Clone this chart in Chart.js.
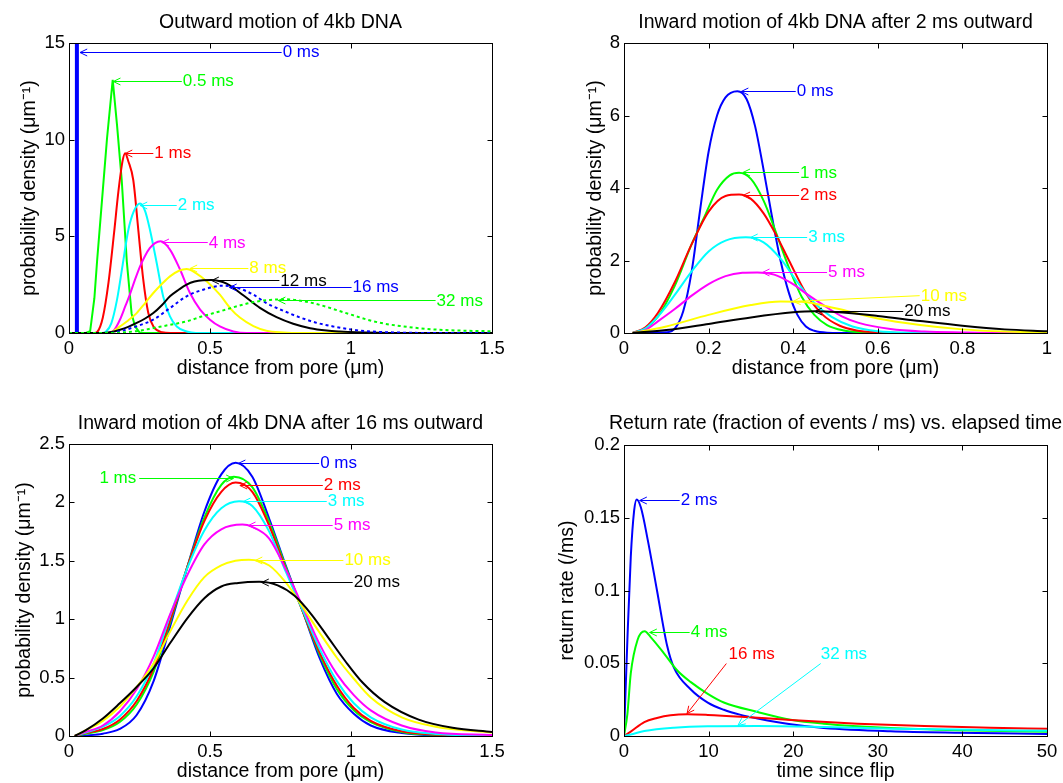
<!DOCTYPE html>
<html>
<head>
<meta charset="utf-8">
<script src="https://cdn.jsdelivr.net/npm/chart.js@4.4.1/dist/chart.umd.min.js"></script>
<style>
  html, body { margin: 0; padding: 0; background: #fff; }
  body { width: 1063px; height: 783px; position: relative; overflow: hidden; }
  canvas { position: absolute; }
</style>
</head>
<body>
<canvas id="outward" width="531" height="392" style="left:0px;top:0px;width:531px;height:392px"></canvas>
<canvas id="inward2" width="508" height="392" style="left:555px;top:0px;width:508px;height:392px"></canvas>
<canvas id="inward16" width="531" height="383" style="left:0px;top:400px;width:531px;height:383px"></canvas>
<canvas id="returnRate" width="508" height="383" style="left:555px;top:400px;width:508px;height:383px"></canvas>
<script>
// ---------- colours ----------
const BLUE = '#0000ff', GREEN = '#00ff00', RED = '#ff0000', CYAN = '#00ffff',
      MAGENTA = '#ff00ff', YELLOW = '#ffff00', BLACK = '#000000';
const FONT = '"Liberation Sans", Arial, Helvetica, sans-serif';

// ---------- outward motion of 4kb DNA (distance in µm, density in 1/µm) ----------
const outX_0 = [0.028, 0.028];
const outY_0 = [0, 15];
const outX_05 = [0, 0.06, 0.075, 0.09, 0.10, 0.12, 0.135, 0.155, 0.17, 0.187, 0.205, 0.222, 0.234, 0.25, 0.26, 1.5];
const outY_05 = [0, 0, 0.1, 1.8, 3.8, 7.4, 10.1, 13.1, 10.8, 7.9, 3.7, 1.0, 0.35, 0.03, 0, 0];
const outX_1 = [0, 0.09, 0.10, 0.12, 0.14, 0.16, 0.175, 0.19, 0.199, 0.21, 0.228, 0.246, 0.263, 0.281, 0.30, 0.33, 0.36, 1.5];
const outY_1 = [0, 0, 0.05, 0.8, 2.6, 5.2, 7.3, 8.9, 9.3, 8.9, 7.9, 5.3, 2.8, 1.05, 0.32, 0.04, 0, 0];
const outX_2 = [0, 0.12, 0.13, 0.15, 0.17, 0.19, 0.21, 0.23, 0.252, 0.27, 0.287, 0.311, 0.334, 0.358, 0.382, 0.417, 0.45, 1.5];
const outY_2 = [0, 0, 0.05, 0.5, 1.7, 3.5, 5.3, 6.3, 6.7, 6.3, 5.34, 3.62, 1.89, 0.86, 0.34, 0.08, 0, 0];
const outX_4 = [0, 0.14, 0.16, 0.181, 0.20, 0.216, 0.235, 0.252, 0.27, 0.287, 0.305, 0.325, 0.358, 0.394, 0.429, 0.465, 0.50, 0.535, 0.583, 0.63, 1.5];
const outY_4 = [0, 0, 0.15, 0.7, 1.4, 2.0, 2.8, 3.45, 4.0, 4.4, 4.65, 4.74, 4.31, 3.27, 2.07, 1.21, 0.69, 0.34, 0.08, 0, 0];
const outX_8 = [0, 0.14, 0.16, 0.181, 0.21, 0.24, 0.27, 0.299, 0.33, 0.358, 0.39, 0.417, 0.45, 0.49, 0.535, 0.571, 0.606, 0.654, 0.70, 0.76, 0.82, 1.5];
const outY_8 = [0, 0, 0.12, 0.34, 0.65, 1.03, 1.55, 2.07, 2.55, 2.93, 3.22, 3.31, 3.1, 2.65, 1.98, 1.29, 0.8, 0.36, 0.12, 0.03, 0, 0];
const outX_12 = [0, 0.12, 0.15, 0.181, 0.21, 0.24, 0.27, 0.299, 0.33, 0.358, 0.39, 0.417, 0.445, 0.475, 0.505, 0.559, 0.618, 0.677, 0.736, 0.795, 0.855, 0.914, 0.96, 1.02, 1.1, 1.2, 1.5];
const outY_12 = [0, 0, 0.05, 0.17, 0.32, 0.52, 0.75, 1.03, 1.45, 1.9, 2.25, 2.5, 2.66, 2.73, 2.74, 2.55, 1.95, 1.3, 0.82, 0.48, 0.25, 0.13, 0.08, 0.04, 0.015, 0, 0];
const outX_16 = [0, 0.14, 0.181, 0.24, 0.299, 0.358, 0.417, 0.476, 0.547, 0.595, 0.654, 0.70, 0.76, 0.82, 0.88, 0.94, 1.0, 1.06, 1.15, 1.3, 1.5];
const outY_16 = [0, 0, 0.09, 0.35, 0.69, 1.29, 1.9, 2.24, 2.45, 2.35, 1.98, 1.55, 1.15, 0.8, 0.52, 0.33, 0.18, 0.09, 0.03, 0, 0];
const outX_32 = [0, 0.15, 0.20, 0.25, 0.30, 0.35, 0.417, 0.47, 0.535, 0.595, 0.654, 0.713, 0.772, 0.83, 0.89, 0.95, 1.0, 1.06, 1.12, 1.18, 1.24, 1.30, 1.40, 1.5];
const outY_32 = [0, 0, 0.04, 0.12, 0.26, 0.4, 0.6, 0.85, 1.12, 1.38, 1.6, 1.71, 1.74, 1.65, 1.45, 1.18, 0.95, 0.68, 0.48, 0.35, 0.25, 0.18, 0.12, 0.09];
const outXTicks = [0, 0.5, 1, 1.5];
const outXLabels = ['0', '0.5', '1', '1.5'];
const outYTicks = [0, 5, 10, 15];
const outYLabels = ['0', '5', '10', '15'];

// ---------- inward motion after 2 ms outward ----------
const in2X_0 = [0.02, 0.10, 0.12, 0.14, 0.16, 0.18, 0.20, 0.22, 0.24, 0.268, 0.29, 0.31, 0.33, 0.35, 0.37, 0.39, 0.41, 0.43, 0.45, 0.48, 0.55, 1.0];
const in2Y_0 = [0, 0.02, 0.12, 0.6, 1.7, 3.4, 5.0, 6.0, 6.5, 6.67, 6.45, 5.7, 4.5, 3.2, 2.0, 1.1, 0.5, 0.18, 0.06, 0.01, 0, 0];
const in2X_1 = [0.02, 0.05, 0.08, 0.12, 0.16, 0.19, 0.22, 0.25, 0.272, 0.30, 0.33, 0.36, 0.39, 0.42, 0.45, 0.48, 0.52, 0.56, 0.62, 0.7, 1.0];
const in2Y_1 = [0, 0.12, 0.45, 1.3, 2.45, 3.2, 3.95, 4.35, 4.42, 4.25, 3.65, 2.75, 1.8, 1.0, 0.5, 0.22, 0.07, 0.02, 0, 0, 0];
const in2X_2 = [0.02, 0.05, 0.08, 0.12, 0.16, 0.20, 0.24, 0.272, 0.30, 0.33, 0.36, 0.39, 0.43, 0.47, 0.51, 0.55, 0.60, 0.68, 1.0];
const in2Y_2 = [0, 0.15, 0.55, 1.4, 2.45, 3.35, 3.78, 3.82, 3.7, 3.3, 2.7, 2.0, 1.1, 0.5, 0.2, 0.07, 0.02, 0, 0];
const in2X_3 = [0.02, 0.05, 0.08, 0.12, 0.16, 0.20, 0.24, 0.288, 0.33, 0.37, 0.41, 0.45, 0.49, 0.54, 0.60, 0.68, 0.8, 1.0];
const in2Y_3 = [0, 0.12, 0.45, 1.05, 1.7, 2.25, 2.55, 2.64, 2.5, 2.05, 1.4, 0.83, 0.45, 0.18, 0.05, 0.01, 0, 0];
const in2X_5 = [0.02, 0.05, 0.08, 0.12, 0.16, 0.20, 0.24, 0.28, 0.315, 0.355, 0.395, 0.435, 0.475, 0.515, 0.555, 0.63, 0.71, 0.8, 0.9, 1.0];
const in2Y_5 = [0, 0.08, 0.32, 0.66, 1.03, 1.35, 1.57, 1.66, 1.67, 1.61, 1.38, 1.05, 0.74, 0.46, 0.28, 0.11, 0.04, 0.015, 0, 0];
const in2X_10 = [0.02, 0.1, 0.2, 0.3, 0.37, 0.42, 0.5, 0.6, 0.7, 0.8, 0.9, 1.0];
const in2Y_10 = [0, 0.18, 0.5, 0.77, 0.87, 0.86, 0.68, 0.4, 0.22, 0.1, 0.04, 0.015];
const in2X_20 = [0.02, 0.1, 0.2, 0.3, 0.4, 0.45, 0.5, 0.6, 0.7, 0.8, 0.9, 1.0];
const in2Y_20 = [0, 0.08, 0.25, 0.43, 0.57, 0.6, 0.58, 0.47, 0.33, 0.2, 0.1, 0.05];
const in2XTicks = [0, 0.2, 0.4, 0.6, 0.8, 1];
const in2XLabels = ['0', '0.2', '0.4', '0.6', '0.8', '1'];
const in2YTicks = [0, 2, 4, 6, 8];
const in2YLabels = ['0', '2', '4', '6', '8'];

// ---------- inward motion after 16 ms outward ----------
const in16X_0 = [0.02, 0.06, 0.12, 0.18, 0.24, 0.30, 0.36, 0.42, 0.48, 0.54, 0.591, 0.65, 0.71, 0.77, 0.83, 0.89, 0.95, 1.01, 1.07, 1.18, 1.3, 1.5];
const in16Y_0 = [0, 0.005, 0.02, 0.06, 0.18, 0.47, 0.95, 1.45, 1.92, 2.24, 2.34, 2.22, 1.86, 1.45, 1.06, 0.66, 0.36, 0.19, 0.09, 0.025, 0.005, 0];
const in16X_1 = [0.02, 0.06, 0.12, 0.18, 0.24, 0.30, 0.36, 0.42, 0.48, 0.54, 0.585, 0.65, 0.71, 0.77, 0.83, 0.89, 0.95, 1.01, 1.07, 1.18, 1.3, 1.5];
const in16Y_1 = [0, 0.02, 0.05, 0.12, 0.27, 0.55, 0.98, 1.45, 1.87, 2.15, 2.22, 2.13, 1.83, 1.44, 1.06, 0.69, 0.40, 0.22, 0.12, 0.035, 0.01, 0.002];
const in16X_2 = [0.02, 0.06, 0.12, 0.18, 0.24, 0.30, 0.36, 0.42, 0.48, 0.54, 0.591, 0.65, 0.71, 0.77, 0.83, 0.89, 0.95, 1.01, 1.07, 1.18, 1.3, 1.5];
const in16Y_2 = [0, 0.025, 0.06, 0.14, 0.30, 0.58, 1.0, 1.45, 1.84, 2.09, 2.17, 2.09, 1.80, 1.42, 1.06, 0.71, 0.43, 0.24, 0.13, 0.04, 0.012, 0.003];
const in16X_3 = [0.02, 0.06, 0.12, 0.18, 0.24, 0.30, 0.36, 0.42, 0.48, 0.54, 0.603, 0.65, 0.71, 0.77, 0.83, 0.89, 0.95, 1.01, 1.07, 1.18, 1.3, 1.5];
const in16Y_3 = [0, 0.03, 0.08, 0.17, 0.34, 0.62, 1.04, 1.44, 1.76, 1.95, 2.01, 1.97, 1.75, 1.40, 1.07, 0.74, 0.47, 0.28, 0.16, 0.055, 0.018, 0.005];
const in16X_5 = [0.02, 0.06, 0.12, 0.18, 0.24, 0.30, 0.36, 0.42, 0.48, 0.54, 0.615, 0.65, 0.71, 0.77, 0.83, 0.89, 0.95, 1.01, 1.07, 1.18, 1.3, 1.5];
const in16Y_5 = [0, 0.035, 0.09, 0.21, 0.40, 0.68, 1.05, 1.38, 1.64, 1.77, 1.81, 1.79, 1.69, 1.42, 1.10, 0.78, 0.53, 0.35, 0.22, 0.09, 0.03, 0.008];
const in16X_10 = [0.02, 0.06, 0.12, 0.18, 0.24, 0.30, 0.36, 0.42, 0.48, 0.54, 0.59, 0.638, 0.71, 0.77, 0.83, 0.89, 0.95, 1.01, 1.07, 1.18, 1.3, 1.5];
const in16Y_10 = [0, 0.05, 0.13, 0.25, 0.42, 0.62, 0.90, 1.16, 1.36, 1.46, 1.50, 1.51, 1.46, 1.31, 1.10, 0.88, 0.67, 0.49, 0.33, 0.16, 0.08, 0.03];
const in16X_20 = [0.02, 0.06, 0.12, 0.18, 0.24, 0.30, 0.36, 0.42, 0.48, 0.54, 0.60, 0.674, 0.74, 0.80, 0.86, 0.92, 0.98, 1.04, 1.12, 1.24, 1.36, 1.5];
const in16Y_20 = [0, 0.05, 0.15, 0.28, 0.42, 0.58, 0.80, 1.01, 1.18, 1.28, 1.31, 1.32, 1.29, 1.20, 1.04, 0.84, 0.64, 0.46, 0.29, 0.14, 0.07, 0.035];
const in16YTicks = [0, 0.5, 1, 1.5, 2, 2.5];
const in16YLabels = ['0', '0.5', '1', '1.5', '2', '2.5'];

// ---------- return rate vs. time since flip ----------
const retX_2 = [0, 0.4, 0.8, 1.2, 1.5, 2.0, 2.8, 3.9, 5.1, 5.9, 7.9, 9.9, 11.8, 13.8, 15.8, 19.7, 23.6, 31.5, 39.4, 50];
const retY_2 = [0, 0.066, 0.123, 0.155, 0.1626, 0.157, 0.135, 0.10, 0.062, 0.047, 0.032, 0.023, 0.018, 0.0145, 0.012, 0.008, 0.0055, 0.0032, 0.0022, 0.0014];
const retX_4 = [0, 0.4, 0.8, 1.6, 2.44, 3.15, 4.7, 6.3, 7.9, 9.9, 11.8, 15.8, 19.7, 23.6, 31.5, 39.4, 50];
const retY_4 = [0, 0.015, 0.043, 0.066, 0.072, 0.068, 0.057, 0.045, 0.037, 0.029, 0.023, 0.0165, 0.0112, 0.0085, 0.0055, 0.004, 0.003];
const retX_16 = [0, 0.8, 2.4, 3.9, 5.5, 7.5, 9.9, 13.8, 19.7, 27.6, 35.5, 43.3, 50];
const retY_16 = [0, 0.003, 0.0096, 0.0124, 0.0142, 0.0149, 0.0145, 0.0133, 0.011, 0.0085, 0.0068, 0.0056, 0.005];
const retX_32 = [0, 0.8, 2.4, 5.9, 9.9, 15.8, 23.6, 31.5, 39.4, 50];
const retY_32 = [0, 0.001, 0.0034, 0.0057, 0.0067, 0.0069, 0.0062, 0.005, 0.0044, 0.0036];
const retXTicks = [0, 10, 20, 30, 40, 50];
const retXLabels = ['0', '10', '20', '30', '40', '50'];
const retYTicks = [0, 0.05, 0.1, 0.15, 0.2];
const retYLabels = ['0', '0.05', '0.1', '0.15', '0.2'];

// ---------- arrow labels: tail/head in data units ----------
const outNotes = [
  { label: '0 ms',   color: BLUE,    tail: [0.754, 14.53], head: [0.039, 14.53] },
  { label: '0.5 ms', color: GREEN,   tail: [0.40, 13.05],  head: [0.157, 13.05] },
  { label: '1 ms',   color: RED,     tail: [0.299, 9.31],  head: [0.199, 9.31] },
  { label: '2 ms',   color: CYAN,    tail: [0.382, 6.64],  head: [0.252, 6.64] },
  { label: '4 ms',   color: MAGENTA, tail: [0.492, 4.69],  head: [0.329, 4.69] },
  { label: '8 ms',   color: YELLOW,  tail: [0.636, 3.36],  head: [0.429, 3.36] },
  { label: '12 ms',  color: BLACK,   tail: [0.746, 2.72],  head: [0.506, 2.72] },
  { label: '16 ms',  color: BLUE,    tail: [1.002, 2.38],  head: [0.569, 2.38] },
  { label: '32 ms',  color: GREEN,   tail: [1.30, 1.69],   head: [0.742, 1.69] }
];
const in2Notes = [
  { label: '0 ms',  color: BLUE,    tail: [0.406, 6.67], head: [0.277, 6.67] },
  { label: '1 ms',  color: GREEN,   tail: [0.414, 4.43], head: [0.281, 4.43] },
  { label: '2 ms',  color: RED,     tail: [0.414, 3.80], head: [0.281, 3.80] },
  { label: '3 ms',  color: CYAN,    tail: [0.433, 2.64], head: [0.299, 2.64] },
  { label: '5 ms',  color: MAGENTA, tail: [0.48, 1.68],  head: [0.327, 1.68] },
  { label: '10 ms', color: YELLOW,  tail: [0.699, 1.03], head: [0.40, 0.87] },
  { label: '20 ms', color: BLACK,   tail: [0.66, 0.6],   head: [0.451, 0.6] }
];
const in16Notes = [
  { label: '0 ms',  color: BLUE,    tail: [0.887, 2.34], head: [0.60, 2.34] },
  { label: '1 ms',  color: GREEN,   tail: [0.249, 2.21], head: [0.583, 2.21], text: [0.242, 2.21], align: 'right' },
  { label: '2 ms',  color: RED,     tail: [0.90, 2.15],  head: [0.606, 2.15] },
  { label: '3 ms',  color: CYAN,    tail: [0.914, 2.01], head: [0.618, 2.01] },
  { label: '5 ms',  color: MAGENTA, tail: [0.935, 1.81], head: [0.636, 1.81] },
  { label: '10 ms', color: YELLOW,  tail: [0.973, 1.51], head: [0.66, 1.51] },
  { label: '20 ms', color: BLACK,   tail: [1.006, 1.32], head: [0.683, 1.32] }
];
const retNotes = [
  { label: '2 ms',  color: BLUE,  tail: [6.58, 0.1622], head: [1.85, 0.1622] },
  { label: '4 ms',  color: GREEN, tail: [7.76, 0.0716], head: [3.03, 0.0716] },
  { label: '16 ms', color: RED,   tail: [12.1, 0.0498], head: [7.45, 0.0154], text: [15.09, 0.0562], align: 'center' },
  { label: '32 ms', color: CYAN,  tail: [23.25, 0.0498], head: [13.47, 0.0073], text: [26.0, 0.0562], align: 'center' }
];

// ---------- boxed axes with inward ticks, panel title and arrow labels ----------
const framePlugin = {
  id: 'frame',
  afterDraw(chart, args, o) {
    const { ctx, chartArea: a, scales } = chart;
    const xs = scales.x, ys = scales.y;
    const L = Math.round(a.left) + 0.5, R = Math.round(a.right) + 0.5;
    const T = Math.round(a.top) + 0.5, B = Math.round(a.bottom) + 0.5;
    ctx.save();
    ctx.strokeStyle = '#000';
    ctx.lineWidth = 1;
    ctx.strokeRect(L, T, R - L, B - T);
    ctx.beginPath();
    xs.ticks.forEach(t => {
      const p = Math.round(xs.getPixelForValue(t.value)) + 0.5;
      ctx.moveTo(p, B); ctx.lineTo(p, B - 5);
      ctx.moveTo(p, T); ctx.lineTo(p, T + 5);
    });
    ys.ticks.forEach(t => {
      const p = Math.round(ys.getPixelForValue(t.value)) + 0.5;
      ctx.moveTo(L, p); ctx.lineTo(L + 5, p);
      ctx.moveTo(R, p); ctx.lineTo(R - 5, p);
    });
    ctx.stroke();

    ctx.fillStyle = '#000';
    ctx.font = '19.5px ' + FONT;
    ctx.textAlign = 'center';
    ctx.textBaseline = 'middle';
    ctx.fillText(o.title, (a.left + a.right) / 2, o.titleY);

    ctx.font = '17px ' + FONT;
    o.notes.forEach(n => {
      let hx = xs.getPixelForValue(n.head[0]), hy = ys.getPixelForValue(n.head[1]);
      let tx = xs.getPixelForValue(n.tail[0]), ty = ys.getPixelForValue(n.tail[1]);
      if (n.head[1] === n.tail[1]) { hy = ty = Math.round(ty) + 0.5; }
      ctx.strokeStyle = n.color;
      ctx.fillStyle = n.color;
      ctx.lineWidth = 1;
      ctx.beginPath();
      ctx.moveTo(tx, ty);
      ctx.lineTo(hx, hy);
      const ang = Math.atan2(hy - ty, hx - tx);
      [-1, 1].forEach(s => {
        ctx.moveTo(hx, hy);
        ctx.lineTo(hx - 8 * Math.cos(ang + s * 0.45), hy - 8 * Math.sin(ang + s * 0.45));
      });
      ctx.stroke();
      const p = n.text || n.tail;
      const align = n.align || 'left';
      ctx.textAlign = align;
      const px = xs.getPixelForValue(p[0]) + (align === 'left' ? 1 : align === 'right' ? -1 : 0);
      ctx.fillText(n.label, px, ys.getPixelForValue(p[1]) + 0.5);
    });
    ctx.restore();
  }
};

function series(x, y, color, extra) {
  return Object.assign({ x, y, color }, extra || {});
}

function makePanel(id, p) {
  const tickFont = { family: FONT, size: 18.5 };
  const titleFont = { family: FONT, size: 19.5 };
  return new Chart(document.getElementById(id), {
    type: 'line',
    data: {
      datasets: p.series.map((s, i) => ({
        data: s.x.map((xv, k) => ({ x: xv, y: s.y[k] })),
        borderColor: s.color,
        borderWidth: s.width || 2,
        borderDash: s.dash || [],
        pointRadius: 0,
        fill: false,
        order: -i,
        tension: 0,
        cubicInterpolationMode: s.sharp ? 'default' : 'monotone'
      }))
    },
    options: {
      responsive: false,
      animation: false,
      devicePixelRatio: 1,
      events: [],
      layout: { padding: { top: p.top, right: p.right, left: 0, bottom: 0 } },
      plugins: {
        legend: { display: false },
        tooltip: { enabled: false },
        frame: { title: p.title, titleY: p.titleY, notes: p.notes }
      },
      scales: {
        x: {
          type: 'linear', min: p.xTicks[0], max: p.xTicks[p.xTicks.length - 1],
          afterBuildTicks: sc => { sc.ticks = p.xTicks.map(v => ({ value: v })); },
          afterFit: sc => { sc.height = p.xH; },
          grid: { display: false, drawTicks: false, tickLength: 0 },
          border: { display: false },
          ticks: { font: tickFont, color: '#000', padding: 5, maxRotation: 0, autoSkip: false,
                   callback: (v, i) => p.xLabels[i] },
          title: { display: true, text: p.xTitle, font: titleFont, color: '#000',
                   padding: { top: 0, bottom: p.xTitlePad } }
        },
        y: {
          type: 'linear', min: p.yTicks[0], max: p.yTicks[p.yTicks.length - 1],
          afterBuildTicks: sc => { sc.ticks = p.yTicks.map(v => ({ value: v })); },
          afterFit: sc => { sc.width = 69; },
          grid: { display: false, drawTicks: false, tickLength: 0 },
          border: { display: false },
          ticks: { font: tickFont, color: '#000', padding: 4, autoSkip: false,
                   callback: (v, i) => p.yLabels[i] },
          title: { display: true, text: p.yTitle, font: titleFont, color: '#000',
                   padding: { top: p.yTitlePad, bottom: 0 } }
        }
      }
    },
    plugins: [framePlugin]
  });
}

const DENSITY = 'probability density (\u03bcm\u207b\u00b9)';
const DISTANCE = 'distance from pore (\u03bcm)';

makePanel('outward', {
  title: 'Outward motion of 4kb DNA', titleY: 22.3,
  top: 43, right: 39, xH: 59, xTitlePad: 11.5, yTitlePad: 18.3,
  xTicks: outXTicks, xLabels: outXLabels, yTicks: outYTicks, yLabels: outYLabels,
  xTitle: DISTANCE, yTitle: DENSITY, notes: outNotes,
  series: [
    series(outX_0, outY_0, BLUE, { width: 4, sharp: true }),
    series(outX_05, outY_05, GREEN, { sharp: true }),
    series(outX_1, outY_1, RED),
    series(outX_2, outY_2, CYAN),
    series(outX_4, outY_4, MAGENTA),
    series(outX_8, outY_8, YELLOW),
    series(outX_12, outY_12, BLACK),
    series(outX_16, outY_16, BLUE, { dash: [3, 3] }),
    series(outX_32, outY_32, GREEN, { dash: [3, 3] })
  ]
});

makePanel('inward2', {
  title: 'Inward motion of 4kb DNA after 2 ms outward', titleY: 22.3,
  top: 43, right: 16, xH: 59, xTitlePad: 11.5, yTitlePad: 29.3,
  xTicks: in2XTicks, xLabels: in2XLabels, yTicks: in2YTicks, yLabels: in2YLabels,
  xTitle: DISTANCE, yTitle: DENSITY, notes: in2Notes,
  series: [
    series(in2X_0, in2Y_0, BLUE),
    series(in2X_1, in2Y_1, GREEN),
    series(in2X_2, in2Y_2, RED),
    series(in2X_3, in2Y_3, CYAN),
    series(in2X_5, in2Y_5, MAGENTA),
    series(in2X_10, in2Y_10, YELLOW),
    series(in2X_20, in2Y_20, BLACK)
  ]
});

makePanel('inward16', {
  title: 'Inward motion of 4kb DNA after 16 ms outward', titleY: 23.3,
  top: 44, right: 39, xH: 47, xTitlePad: 0, yTitlePad: 12.6,
  xTicks: outXTicks, xLabels: outXLabels, yTicks: in16YTicks, yLabels: in16YLabels,
  xTitle: DISTANCE, yTitle: DENSITY, notes: in16Notes,
  series: [
    series(in16X_0, in16Y_0, BLUE),
    series(in16X_1, in16Y_1, GREEN),
    series(in16X_2, in16Y_2, RED),
    series(in16X_3, in16Y_3, CYAN),
    series(in16X_5, in16Y_5, MAGENTA),
    series(in16X_10, in16Y_10, YELLOW),
    series(in16X_20, in16Y_20, BLACK)
  ]
});

makePanel('returnRate', {
  title: 'Return rate (fraction of events / ms) vs. elapsed time', titleY: 24,
  top: 45, right: 16, xH: 47, xTitlePad: 0, yTitlePad: 1.1,
  xTicks: retXTicks, xLabels: retXLabels, yTicks: retYTicks, yLabels: retYLabels,
  xTitle: 'time since flip', yTitle: 'return rate (/ms)', notes: retNotes,
  series: [
    series(retX_2, retY_2, BLUE),
    series(retX_4, retY_4, GREEN),
    series(retX_16, retY_16, RED),
    series(retX_32, retY_32, CYAN)
  ]
});
</script>
</body>
</html>
